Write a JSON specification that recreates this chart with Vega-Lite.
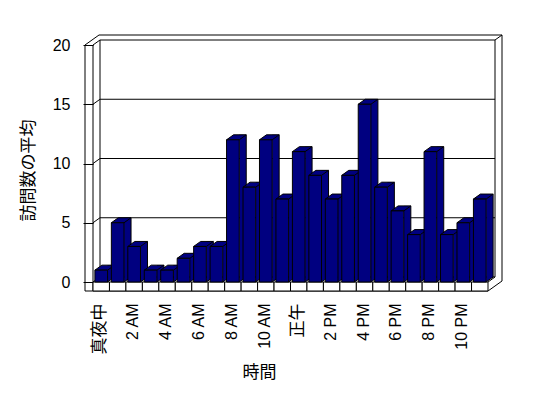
{
  "$schema": "https://vega.github.io/schema/vega-lite/v6.json",
  "width": 395,
  "height": 237,
  "autosize": "none",
  "padding": {"left": 93, "top": 45, "right": 60, "bottom": 116},
  "background": "white",
  "config": {
    "view": {"stroke": null},
    "font": "Liberation Sans, Noto Sans CJK JP",
    "axisX": {"labelAngle": -90, "labelPadding": 21, "labelOffset": -1, "ticks": false, "tickSize": 0, "domain": false, "grid": false,
              "labelColor": "black", "titleFontSize": 17, "titleFontWeight": "normal", "titleColor": "black",
              "titleX": 166, "titleY": 90, "titleAlign": "center", "titleBaseline": "middle"},
    "axisY": {"tickSize": 10, "tickColor": "black", "labelPadding": 13, "domain": false, "grid": false, "zindex": 1,
              "labelFontSize": 16, "labelColor": "black", "titleFontSize": 17, "titleFontWeight": "normal", "titleColor": "black",
              "titleX": -64.5, "titleY": 125, "titleAlign": "center", "titleBaseline": "middle", "titleAngle": 270}
  },
  "data": {"values": [
    {"時間": "真夜中", "訪問数": 1}, {"時間": "1 AM", "訪問数": 5}, {"時間": "2 AM", "訪問数": 3},
    {"時間": "3 AM", "訪問数": 1}, {"時間": "4 AM", "訪問数": 1}, {"時間": "5 AM", "訪問数": 2},
    {"時間": "6 AM", "訪問数": 3}, {"時間": "7 AM", "訪問数": 3}, {"時間": "8 AM", "訪問数": 12},
    {"時間": "9 AM", "訪問数": 8}, {"時間": "10 AM", "訪問数": 12}, {"時間": "11 AM", "訪問数": 7},
    {"時間": "正午", "訪問数": 11}, {"時間": "1 PM", "訪問数": 9}, {"時間": "2 PM", "訪問数": 7},
    {"時間": "3 PM", "訪問数": 9}, {"時間": "4 PM", "訪問数": 15}, {"時間": "5 PM", "訪問数": 8},
    {"時間": "6 PM", "訪問数": 6}, {"時間": "7 PM", "訪問数": 4}, {"時間": "8 PM", "訪問数": 11},
    {"時間": "9 PM", "訪問数": 4}, {"時間": "10 PM", "訪問数": 5}, {"時間": "11 PM", "訪問数": 7}
  ]},
  "layer": [
    {"data": {"values": [{}]}, "mark": {"type": "rect", "fill": "white", "stroke": "black", "strokeWidth": 1, "xOffset": 7, "x2Offset": 7, "yOffset": -5, "y2Offset": -5},
     "encoding": {"x": {"value": 0}, "x2": {"value": {"expr": "width"}}, "y": {"datum": 20, "title": "訪問数の平均", "scale": {"domain": [0, 20], "nice": false}, "axis": {"values": [0, 5, 10, 15, 20]}}, "y2": {"datum": 0}}},
    {"data": {"values": [{}]}, "mark": {"type": "rule", "color": "black", "xOffset": 6, "x2Offset": 14, "yOffset": -10},
     "encoding": {"x": {"value": 0}, "x2": {"value": {"expr": "width"}}, "y": {"datum": 20, "title": "訪問数の平均"}}},
    {"data": {"values": [{}]}, "mark": {"type": "rule", "color": "black", "xOffset": -8, "x2Offset": 6, "yOffset": 0, "y2Offset": -10},
     "encoding": {"x": {"value": 0}, "x2": {"value": 0}, "y": {"datum": 20, "title": "訪問数の平均"}, "y2": {"datum": 20}}},
    {"data": {"values": [{}]}, "mark": {"type": "rule", "color": "black", "xOffset": -8, "y2Offset": 9},
     "encoding": {"x": {"value": 0}, "y": {"datum": 20, "title": "訪問数の平均"}, "y2": {"datum": 0}}},
    {"data": {"values": [{}]}, "mark": {"type": "rule", "color": "black", "xOffset": -8, "yOffset": 9},
     "encoding": {"x": {"value": 0}, "x2": {"value": {"expr": "width"}}, "y": {"datum": 0, "title": "訪問数の平均"}}},
    {"data": {"values": [{}]}, "mark": {"type": "rule", "color": "black", "x2Offset": 14, "yOffset": 9, "y2Offset": -1},
     "encoding": {"x": {"value": {"expr": "width"}}, "x2": {"value": {"expr": "width"}}, "y": {"datum": 0, "title": "訪問数の平均"}, "y2": {"datum": 0}}},
    {"data": {"values": [{}]}, "mark": {"type": "rule", "color": "black", "xOffset": 14, "yOffset": -10, "y2Offset": -1},
     "encoding": {"x": {"value": {"expr": "width"}}, "y": {"datum": 20, "title": "訪問数の平均"}, "y2": {"datum": 0}}},
    {"data": {"values": [{}]}, "mark": {"type": "rule", "color": "black", "y2Offset": 9},
     "encoding": {"x": {"value": 0}, "y": {"datum": 20, "title": "訪問数の平均"}, "y2": {"datum": 0}}},
    {"data": {"values": [{}]}, "mark": {"type": "rule", "color": "black", "x2Offset": 7, "y2Offset": -5},
     "encoding": {"x": {"value": 0}, "x2": {"value": 0}, "y": {"datum": 20, "title": "訪問数の平均"}, "y2": {"datum": 20}}},
    {"data": {"values": [{}]}, "mark": {"type": "rule", "color": "black", "xOffset": 7, "x2Offset": 14, "yOffset": -5, "y2Offset": -10},
     "encoding": {"x": {"value": {"expr": "width"}}, "x2": {"value": {"expr": "width"}}, "y": {"datum": 20, "title": "訪問数の平均"}, "y2": {"datum": 20}}},
    {"data": {"values": [{}]}, "mark": {"type": "rule", "color": "black", "x2Offset": 7, "y2Offset": -5},
     "encoding": {"x": {"value": {"expr": "width"}}, "x2": {"value": {"expr": "width"}}, "y": {"datum": 0, "title": "訪問数の平均"}, "y2": {"datum": 0}}},
    {"data": {"values": [{}]}, "mark": {"type": "rule", "color": "black", "x2Offset": 7, "y2Offset": -5},
     "encoding": {"x": {"value": 0}, "x2": {"value": 0}, "y": {"datum": 0, "title": "訪問数の平均"}, "y2": {"datum": 0}}},
    {"data": {"values": [{"目盛": 5}, {"目盛": 10}, {"目盛": 15}]}, "mark": {"type": "rule", "color": "black", "xOffset": 7, "x2Offset": 7, "yOffset": -5},
     "encoding": {"x": {"value": 0}, "x2": {"value": {"expr": "width"}}, "y": {"field": "目盛", "type": "quantitative", "title": "訪問数の平均"}}},
    {"data": {"values": [{"目盛": 5}, {"目盛": 10}, {"目盛": 15}]}, "mark": {"type": "rule", "color": "black", "x2Offset": 7, "y2Offset": -5},
     "encoding": {"x": {"value": 0}, "x2": {"value": 0}, "y": {"field": "目盛", "type": "quantitative", "title": "訪問数の平均"}, "y2": {"field": "目盛"}}},
    {"mark": {"type": "bar", "fill": "white", "stroke": "black", "strokeWidth": 1, "y2Offset": 9},
     "encoding": {"x": {"field": "時間", "type": "nominal", "sort": null, "title": "時間",
                        "scale": {"paddingInner": 0, "paddingOuter": 0},
                        "axis": {"values": ["真夜中", "2 AM", "4 AM", "6 AM", "8 AM", "10 AM", "正午", "2 PM", "4 PM", "6 PM", "8 PM", "10 PM"],
                                 "labelFontSize": {"expr": "indexof(datum.label, 'M') >= 0 ? 16 : 17"}}},
                  "y": {"datum": 0, "title": "訪問数の平均"}, "y2": {"datum": 0}}},
    {"mark": {"type": "bar", "fill": "#000080", "width": 7, "xOffset": 9.85, "yOffset": -5, "y2Offset": -5},
     "encoding": {"x": {"field": "時間", "type": "nominal", "sort": null, "title": "時間"}, "y": {"field": "訪問数", "type": "quantitative", "title": "訪問数の平均"}, "y2": {"datum": 0}}},
    {"mark": {"type": "point", "shape": "M 6.35,-5 L 13.35,-5 L 6.35,0 Z", "size": 4, "filled": true, "fill": "#000080", "opacity": 1, "strokeWidth": 0},
     "encoding": {"x": {"field": "時間", "type": "nominal", "sort": null, "title": "時間"}, "y": {"datum": 0, "title": "訪問数の平均"}}},
    {"mark": {"type": "rule", "color": "black", "xOffset": 13.35, "yOffset": -5, "y2Offset": -5},
     "encoding": {"x": {"field": "時間", "type": "nominal", "sort": null, "title": "時間"}, "y": {"field": "訪問数", "type": "quantitative", "title": "訪問数の平均"}, "y2": {"datum": 0}}},
    {"mark": {"type": "point", "shape": "M 6.35,0 L 13.35,-5", "size": 4, "filled": false, "stroke": "black", "strokeWidth": 1, "opacity": 1},
     "encoding": {"x": {"field": "時間", "type": "nominal", "sort": null, "title": "時間"}, "y": {"datum": 0, "title": "訪問数の平均"}}},
    {"mark": {"type": "point", "shape": "M -6.35,0 L 6.35,0 L 13.35,-5 L 0.65,-5 Z", "size": 4, "filled": true, "fill": "#000080", "stroke": "black", "strokeWidth": 1, "opacity": 1},
     "encoding": {"x": {"field": "時間", "type": "nominal", "sort": null, "title": "時間"}, "y": {"field": "訪問数", "type": "quantitative", "title": "訪問数の平均"}}},
    {"mark": {"type": "bar", "fill": "#000080", "stroke": "black", "strokeWidth": 1, "width": {"band": 0.77}},
     "encoding": {
       "x": {"field": "時間", "type": "nominal", "sort": null, "title": "時間"},
       "y": {"field": "訪問数", "type": "quantitative", "title": "訪問数の平均"},
       "y2": {"datum": 0}
     }}
  ]
}
